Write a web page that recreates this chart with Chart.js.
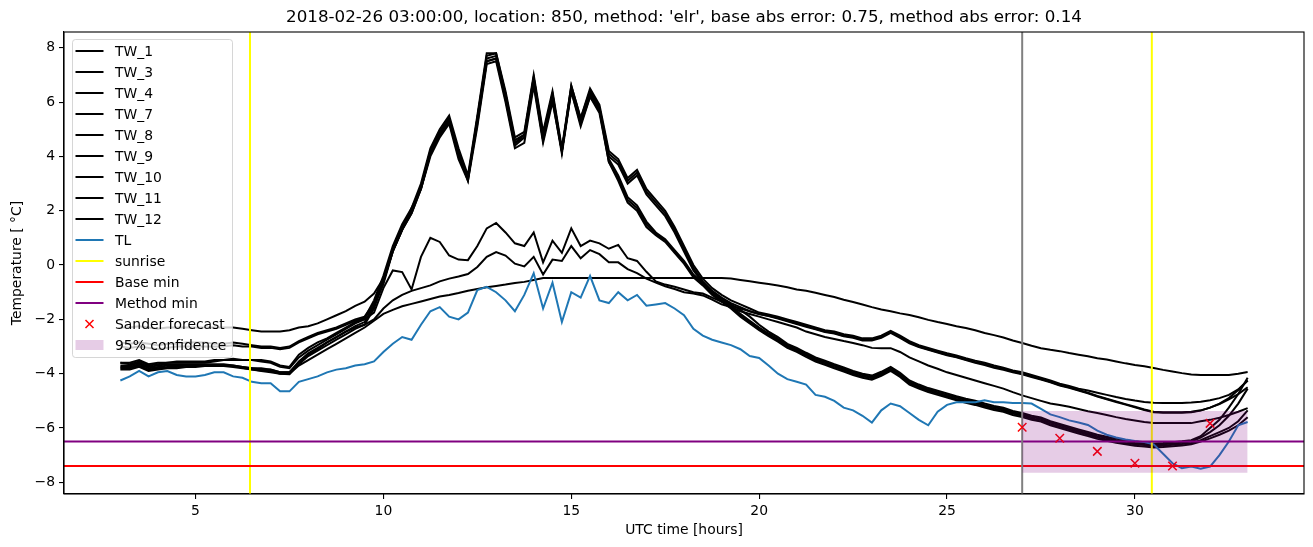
<!DOCTYPE html>
<html>
<head>
<meta charset="utf-8">
<script src="https://cdn.jsdelivr.net/npm/chart.js@4/dist/chart.umd.min.js"></script>
<style>
  body { margin: 0; background: #fff; }
  canvas { display: block; }
</style>
</head>
<body>
<canvas id="tempChart" width="1313" height="547"></canvas>
<script>
// time axis, hours UTC (one value every 15 minutes)
const hours = [
  3, 3.25, 3.5, 3.75, 4, 4.25, 4.5, 4.75,
  5, 5.25, 5.5, 5.75, 6, 6.25, 6.5, 6.75,
  7, 7.25, 7.5, 7.75, 8, 8.25, 8.5, 8.75,
  9, 9.25, 9.5, 9.75, 10, 10.25, 10.5, 10.75,
  11, 11.25, 11.5, 11.75, 12, 12.25, 12.5, 12.75,
  13, 13.25, 13.5, 13.75, 14, 14.25, 14.5, 14.75,
  15, 15.25, 15.5, 15.75, 16, 16.25, 16.5, 16.75,
  17, 17.25, 17.5, 17.75, 18, 18.25, 18.5, 18.75,
  19, 19.25, 19.5, 19.75, 20, 20.25, 20.5, 20.75,
  21, 21.25, 21.5, 21.75, 22, 22.25, 22.5, 22.75,
  23, 23.25, 23.5, 23.75, 24, 24.25, 24.5, 24.75,
  25, 25.25, 25.5, 25.75, 26, 26.25, 26.5, 26.75,
  27, 27.25, 27.5, 27.75, 28, 28.25, 28.5, 28.75,
  29, 29.25, 29.5, 29.75, 30, 30.25, 30.5, 30.75,
  31, 31.25, 31.5, 31.75, 32, 32.25, 32.5, 32.75,
  33
]

const tw1 = [
  -2.3, -2.3, -2.25, -2.3, -2.35, -2.3, -2.3, -2.3,
  -2.3, -2.3, -2.3, -2.3, -2.3, -2.35, -2.4, -2.45,
  -2.45, -2.45, -2.4, -2.3, -2.25, -2.15, -2.0, -1.85,
  -1.7, -1.5, -1.35, -1.05, -0.5, 0.6, 1.4, 2.0,
  2.9, 4.2, 4.9, 5.4, 4.1, 3.1, 5.4, 7.7,
  7.8, 6.3, 4.5, 4.8, 6.9, 4.7, 6.3, 4.2,
  6.6, 5.4, 6.5, 5.9, 4.2, 3.9, 3.2, 3.5,
  2.8, 2.4, 2.0, 1.4, 0.7, 0.0, -0.5, -0.85,
  -1.1, -1.3, -1.45, -1.6, -1.75, -1.82, -1.9, -2.0,
  -2.1, -2.2, -2.3, -2.4, -2.45, -2.55, -2.6, -2.7,
  -2.7, -2.6, -2.42, -2.6, -2.8, -2.95, -3.05, -3.15,
  -3.25, -3.33, -3.43, -3.52, -3.6, -3.7, -3.78, -3.88,
  -3.95, -4.05, -4.15, -4.25, -4.37, -4.45, -4.55, -4.62,
  -4.7, -4.78, -4.86, -4.93, -4.99, -5.04, -5.07, -5.08,
  -5.08, -5.08, -5.06, -5.03, -4.98, -4.9, -4.78, -4.58,
  -4.25
]

const tw3 = [
  -2.85, -2.9, -2.85, -2.9, -2.95, -2.9, -2.9, -2.85,
  -2.85, -2.85, -2.9, -2.9, -2.85, -2.9, -2.95, -3.0,
  -3.0, -3.05, -3.0, -2.8, -2.65, -2.5, -2.4, -2.3,
  -2.15, -2.0, -1.9, -1.4, -0.6, 0.5, 1.3, 2.1,
  2.8, 4.1, 4.8, 5.3, 4.0, 3.2, 5.2, 7.5,
  7.6, 6.1, 4.4, 4.7, 6.7, 4.6, 6.2, 4.2,
  6.5, 5.2, 6.4, 5.8, 4.1, 3.8, 3.1, 3.4,
  2.7, 2.3, 1.9, 1.3, 0.6, -0.1, -0.6, -0.95,
  -1.2, -1.4, -1.55, -1.7, -1.8, -1.88, -1.97, -2.07,
  -2.17, -2.27, -2.37, -2.47, -2.52, -2.62, -2.68, -2.78,
  -2.78, -2.68, -2.5, -2.68, -2.88, -3.02, -3.12, -3.22,
  -3.32, -3.4, -3.5, -3.6, -3.68, -3.78, -3.86, -3.95,
  -4.02, -4.12, -4.22, -4.32, -4.44, -4.52, -4.62, -4.72,
  -4.84, -4.94, -5.04, -5.14, -5.24, -5.34, -5.42, -5.44,
  -5.44, -5.44, -5.42, -5.36, -5.25, -5.1, -4.9, -4.6,
  -4.25
]

const tw4 = [
  -3.0, -3.05, -3.0, -3.05, -3.1, -3.05, -3.0, -3.0,
  -3.0, -3.0, -3.0, -3.0, -2.95, -3.0, -3.0, -3.05,
  -3.05, -3.1, -3.05, -2.85, -2.7, -2.55, -2.45, -2.35,
  -2.2, -2.05, -1.95, -1.5, -0.7, 0.5, 1.3, 1.9,
  2.8, 4.0, 4.7, 5.2, 3.9, 3.1, 5.1, 7.4,
  7.5, 6.0, 4.3, 4.5, 6.6, 4.5, 6.0, 4.2,
  6.4, 5.1, 6.2, 5.7, 4.0, 3.7, 3.0, 3.3,
  2.6, 2.2, 1.8, 1.2, 0.5, -0.2, -0.65, -1.0,
  -1.25, -1.45, -1.65, -1.9, -2.2, -2.45, -2.65, -2.9,
  -3.05, -3.23, -3.4, -3.52, -3.65, -3.77, -3.9, -4.0,
  -4.07, -3.93, -3.75, -3.97, -4.25, -4.4, -4.53, -4.63,
  -4.73, -4.83, -4.92, -5.0, -5.1, -5.19, -5.25, -5.37,
  -5.45, -5.55, -5.61, -5.75, -5.85, -5.95, -6.05, -6.15,
  -6.25, -6.32, -6.39, -6.45, -6.5, -6.53, -6.57, -6.55,
  -6.52, -6.49, -6.45, -6.3, -6.0, -5.7, -5.25, -4.75,
  -4.15
]

const tw7 = [
  -3.6, -3.6, -3.5, -3.65, -3.6, -3.6, -3.55, -3.55,
  -3.55, -3.55, -3.5, -3.5, -3.45, -3.5, -3.5, -3.5,
  -3.55, -3.7, -3.75, -3.3, -3.05, -2.85, -2.7, -2.5,
  -2.3, -2.1, -1.95, -1.3, -0.4, 0.7, 1.5, 2.1,
  3.0, 4.3, 5.0, 5.5, 4.3, 3.3, 5.5, 7.8,
  7.8, 6.4, 4.7, 4.9, 7.0, 4.9, 6.4, 4.3,
  6.6, 5.4, 6.4, 5.8, 3.9, 3.3, 2.5, 2.2,
  1.6, 1.2, 0.95, 0.55, 0.15, -0.35, -0.65, -1.0,
  -1.25, -1.5, -1.8, -2.05, -2.3, -2.52, -2.72, -2.95,
  -3.1, -3.28, -3.45, -3.57, -3.7, -3.82, -3.95, -4.05,
  -4.12, -3.98, -3.8, -4.02, -4.3, -4.45, -4.58, -4.68,
  -4.78, -4.88, -4.97, -5.05, -5.15, -5.24, -5.3, -5.42,
  -5.5, -5.6, -5.66, -5.8, -5.9, -6.0, -6.1, -6.2,
  -6.3, -6.37, -6.44, -6.5, -6.55, -6.58, -6.62, -6.6,
  -6.57, -6.54, -6.5, -6.35, -6.15, -5.9, -5.55, -5.1,
  -4.55
]

const tw8 = [
  -3.7, -3.7, -3.6, -3.75, -3.7, -3.65, -3.65, -3.65,
  -3.65, -3.65, -3.65, -3.65, -3.7, -3.75, -3.8, -3.8,
  -3.85, -3.95, -3.95, -3.55, -3.25, -3.05, -2.85, -2.65,
  -2.45, -2.25, -2.1, -1.5, -0.5, 0.6, 1.4, 2.0,
  2.9, 4.2, 4.9, 5.4, 4.2, 3.2, 5.4, 7.6,
  7.7, 6.3, 4.6, 4.8, 6.9, 4.8, 6.3, 4.2,
  6.5, 5.3, 6.3, 5.7, 3.8, 3.2, 2.4, 2.1,
  1.5, 1.15, 0.9, 0.5, 0.1, -0.4, -0.7, -1.05,
  -1.3, -1.55, -1.85, -2.1, -2.35, -2.57, -2.77, -3.0,
  -3.15, -3.33, -3.5, -3.62, -3.75, -3.87, -4.0, -4.1,
  -4.17, -4.03, -3.85, -4.07, -4.35, -4.5, -4.63, -4.73,
  -4.83, -4.93, -5.02, -5.1, -5.2, -5.29, -5.35, -5.47,
  -5.55, -5.65, -5.71, -5.85, -5.95, -6.05, -6.15, -6.25,
  -6.35, -6.42, -6.49, -6.55, -6.6, -6.63, -6.67, -6.65,
  -6.62, -6.59, -6.55, -6.45, -6.3, -6.15, -6.0, -5.75,
  -5.35
]

const tw9 = [
  -3.75, -3.75, -3.65, -3.8, -3.75, -3.7, -3.7, -3.7,
  -3.7, -3.7, -3.7, -3.7, -3.72, -3.78, -3.85, -3.88,
  -3.9, -4.0, -4.02, -3.65, -3.35, -3.15, -2.95, -2.75,
  -2.55, -2.35, -2.2, -1.6, -0.6, 0.5, 1.3, 1.9,
  2.8, 4.1, 4.8, 5.3, 4.0, 3.2, 5.3, 7.5,
  7.6, 6.2, 4.5, 4.7, 6.8, 4.6, 6.1, 4.1,
  6.4, 5.2, 6.2, 5.6, 3.8, 3.1, 2.3, 2.0,
  1.4, 1.1, 0.85, 0.45, 0.05, -0.45, -0.75, -1.1,
  -1.35, -1.6, -1.9, -2.15, -2.4, -2.62, -2.82, -3.05,
  -3.2, -3.38, -3.55, -3.67, -3.8, -3.92, -4.05, -4.15,
  -4.22, -4.08, -3.9, -4.12, -4.4, -4.55, -4.68, -4.78,
  -4.88, -4.98, -5.07, -5.15, -5.25, -5.34, -5.4, -5.52,
  -5.6, -5.7, -5.76, -5.9, -6.0, -6.1, -6.2, -6.3,
  -6.4, -6.47, -6.54, -6.6, -6.65, -6.68, -6.72, -6.7,
  -6.67, -6.64, -6.6, -6.5, -6.38, -6.25, -6.1, -5.9,
  -5.6
]

const tw10 = [
  -3.6, -3.65, -3.55, -3.7, -3.65, -3.6, -3.6, -3.6,
  -3.6, -3.6, -3.55, -3.5, -3.5, -3.5, -3.5, -3.55,
  -3.6, -3.75, -3.8, -3.4, -3.15, -2.95, -2.75, -2.55,
  -2.35, -2.15, -2.0, -1.75, -0.85, -0.2, -0.26, -0.9,
  0.3, 1.0, 0.85, 0.35, 0.2, 0.18, 0.7, 1.35,
  1.55, 1.2, 0.8, 0.7, 1.2, 0.1, 0.9, 0.45,
  1.35, 0.7, 0.9, 0.8, 0.6, 0.74, 0.25, 0.15,
  -0.25, -0.6, -0.72, -0.8, -0.9, -1.0, -1.05, -1.2,
  -1.35, -1.5, -1.6, -1.7, -1.8, -1.87, -1.95, -2.05,
  -2.15, -2.25, -2.35, -2.45, -2.5, -2.6, -2.65, -2.75,
  -2.75, -2.65, -2.45, -2.65, -2.85, -3.0, -3.1, -3.2,
  -3.3, -3.38, -3.48, -3.57, -3.65, -3.75, -3.82, -3.92,
  -4.0, -4.1, -4.2, -4.3, -4.42, -4.5, -4.6, -4.7,
  -4.82, -4.92, -5.02, -5.12, -5.22, -5.32, -5.4, -5.42,
  -5.42, -5.42, -5.4, -5.35, -5.25, -5.12, -4.95, -4.75,
  -4.5
]

const tw11 = [
  -3.8, -3.8, -3.7, -3.85, -3.8, -3.75, -3.75, -3.7,
  -3.7, -3.7, -3.7, -3.7, -3.7, -3.75, -3.8, -3.85,
  -3.85, -3.95, -3.95, -3.6, -3.3, -3.1, -2.85, -2.65,
  -2.45, -2.3, -2.2, -2.0, -1.6, -1.3, -1.1, -0.95,
  -0.85, -0.75, -0.6, -0.5, -0.42, -0.33, -0.07, 0.3,
  0.48, 0.35, 0.05, -0.05, 0.3, -0.35, 0.2, 0.15,
  0.7, 0.25, 0.55, 0.4, 0.1, 0.1, -0.15, -0.3,
  -0.5, -0.65, -0.78, -0.88, -1.0, -1.05, -1.12, -1.27,
  -1.45, -1.55, -1.7, -1.8, -1.9, -2.0, -2.1, -2.2,
  -2.3, -2.45, -2.55, -2.65, -2.72, -2.8, -2.87, -2.95,
  -3.05, -3.06, -3.06, -3.2, -3.4, -3.55, -3.7, -3.82,
  -3.95, -4.05, -4.15, -4.25, -4.35, -4.45, -4.55, -4.68,
  -4.8, -4.9, -5.0, -5.1, -5.15, -5.22, -5.3, -5.38,
  -5.45, -5.52, -5.6, -5.67, -5.72, -5.78, -5.82, -5.82,
  -5.82, -5.82, -5.82, -5.75, -5.7, -5.62, -5.52, -5.4,
  -5.27
]

const tw12 = [
  -3.85, -3.85, -3.75, -3.9, -3.85, -3.8, -3.8, -3.75,
  -3.75, -3.72, -3.72, -3.72, -3.75, -3.8, -3.85, -3.9,
  -3.95, -4.0, -4.0, -3.7, -3.5, -3.3, -3.1, -2.9,
  -2.7, -2.5, -2.3, -2.05, -1.8, -1.65, -1.52, -1.43,
  -1.34, -1.25, -1.16, -1.1, -1.03, -0.95, -0.88, -0.82,
  -0.77, -0.72, -0.66, -0.62, -0.55, -0.48, -0.48, -0.48,
  -0.48, -0.48, -0.48, -0.48, -0.48, -0.48, -0.48, -0.48,
  -0.48, -0.48, -0.48, -0.48, -0.48, -0.48, -0.48, -0.48,
  -0.48, -0.5, -0.55, -0.6, -0.65, -0.7, -0.75, -0.82,
  -0.9, -0.95, -1.02, -1.1, -1.18, -1.28, -1.36, -1.45,
  -1.55, -1.64, -1.7, -1.78, -1.84, -1.92, -2.02, -2.1,
  -2.17, -2.25, -2.32, -2.4, -2.5, -2.58, -2.67, -2.78,
  -2.87, -2.97, -3.06, -3.12, -3.17, -3.24, -3.3, -3.36,
  -3.43, -3.48, -3.55, -3.62, -3.68, -3.73, -3.79, -3.86,
  -3.92, -3.98, -4.03, -4.05, -4.05, -4.05, -4.05, -4.0,
  -3.94
]

const tl = [
  -4.25, -4.1, -3.9, -4.1, -3.95, -3.9, -4.05, -4.1,
  -4.1, -4.05, -3.95, -3.95, -4.1, -4.15, -4.3, -4.35,
  -4.35, -4.65, -4.65, -4.3, -4.2, -4.1, -3.95, -3.85,
  -3.8, -3.7, -3.65, -3.55, -3.2, -2.9, -2.65, -2.75,
  -2.2, -1.7, -1.55, -1.9, -2.0, -1.75, -0.92, -0.8,
  -1.0, -1.3, -1.7, -1.1, -0.3, -1.6, -0.65, -2.1,
  -1.0, -1.2, -0.4, -1.3, -1.4, -1.0, -1.3, -1.1,
  -1.5, -1.45, -1.4, -1.6, -1.85, -2.35, -2.6, -2.75,
  -2.85, -2.95, -3.1, -3.35, -3.42, -3.7, -4.0, -4.2,
  -4.3, -4.4, -4.78, -4.85, -5.0, -5.25, -5.35, -5.55,
  -5.8, -5.35, -5.1, -5.2, -5.45, -5.7, -5.9, -5.4,
  -5.15, -5.05, -5.05, -5.05, -4.98, -5.05, -5.05, -5.08,
  -5.08, -5.1, -5.3, -5.5, -5.6, -5.72, -5.8, -5.89,
  -6.1, -6.25, -6.35, -6.42, -6.48, -6.52, -6.6, -6.95,
  -7.3, -7.48, -7.42, -7.5, -7.42, -7.0, -6.5, -5.9,
  -5.78
]

const sunriseHours = [6.45, 30.45]
const baseMin = -7.4
const methodMin = -6.5
const forecastStart = 27
const sanderHours = [27, 28, 29, 30, 31, 32]
const sanderTemps = [-5.97, -6.38, -6.86, -7.3, -7.4, -5.83]
const confHours = [27, 33]
const confLow = -7.65
const confHigh = -5.37

const xTicks = [5, 10, 15, 20, 25, 30]
const yTicks = [-8, -6, -4, -2, 0, 2, 4, 6, 8]
const xMin = 1.5
const xMax = 34.5
const yMin = -8.43
const yMax = 8.58

const title = "2018-02-26 03:00:00, location: 850, method: 'elr', base abs error: 0.75, method abs error: 0.14"
const font = '"DejaVu Sans", sans-serif'

const twLines = [
  ['TW_1', tw1], ['TW_3', tw3], ['TW_4', tw4], ['TW_7', tw7], ['TW_8', tw8],
  ['TW_9', tw9], ['TW_10', tw10], ['TW_11', tw11], ['TW_12', tw12]
]

function toPoints(values) {
  return hours.map((h, i) => ({ x: h, y: values[i] }))
}

function lineSet(label, data, color) {
  return { label, data, borderColor: color, backgroundColor: color, borderWidth: 2, pointRadius: 0, fill: false, tension: 0 }
}

function verticalLines(xs) {
  const pts = []
  xs.forEach((x, i) => {
    if (i > 0) pts.push({ x, y: null })
    pts.push({ x, y: yMin }, { x, y: yMax })
  })
  return pts
}

const datasets = [
  ...twLines.map(([name, vals]) => lineSet(name, toPoints(vals), '#000000')),
  lineSet('TL', toPoints(tl), '#1f77b4'),
  lineSet('sunrise', verticalLines(sunriseHours), '#ffff00'),
  lineSet('Base min', [{ x: xMin, y: baseMin }, { x: xMax, y: baseMin }], '#ff0000'),
  lineSet('Method min', [{ x: xMin, y: methodMin }, { x: xMax, y: methodMin }], '#800080'),
  lineSet('', verticalLines([forecastStart]), '#808080'),
  {
    label: 'Sander forecast',
    data: sanderHours.map((h, i) => ({ x: h, y: sanderTemps[i] })),
    showLine: false,
    pointStyle: 'crossRot',
    pointRadius: 6,
    pointBorderWidth: 1.5,
    borderColor: '#ff0000',
    backgroundColor: '#ff0000'
  },
  {
    label: '95% confidence',
    data: confHours.map(h => ({ x: h, y: confHigh })),
    borderWidth: 0,
    pointRadius: 0,
    backgroundColor: 'rgba(128,0,128,0.2)',
    fill: { value: confLow }
  }
]
// later datasets on top, as in the original plot
datasets.forEach((d, i) => { d.order = datasets.length - i })

const legendEntries = [
  ...twLines.map(([name]) => ({ label: name, kind: 'line', color: '#000000' })),
  { label: 'TL', kind: 'line', color: '#1f77b4' },
  { label: 'sunrise', kind: 'line', color: '#ffff00' },
  { label: 'Base min', kind: 'line', color: '#ff0000' },
  { label: 'Method min', kind: 'line', color: '#800080' },
  { label: 'Sander forecast', kind: 'cross', color: '#ff0000' },
  { label: '95% confidence', kind: 'patch', color: 'rgba(128,0,128,0.2)' }
]

const framePlugin = {
  id: 'frame',
  afterDatasetsDraw(chart) {
    const { ctx, chartArea: a } = chart
    ctx.save()
    ctx.strokeStyle = '#000'
    ctx.lineWidth = 1.1
    ctx.strokeRect(a.left, a.top, a.right - a.left, a.bottom - a.top)
    ctx.restore()
  },
  afterDraw(chart) {
    const { ctx, chartArea: a } = chart
    ctx.save()
    // title
    ctx.fillStyle = '#000'
    ctx.font = `16.7px ${font}`
    ctx.textAlign = 'center'
    ctx.textBaseline = 'middle'
    ctx.fillText(title, (a.left + a.right) / 2, 18)

    // legend box
    const bx = 72.5, by = 39.5, bw = 160, bh = 318
    ctx.beginPath()
    ctx.roundRect(bx, by, bw, bh, 3)
    ctx.fillStyle = 'rgba(255,255,255,0.8)'
    ctx.fill()
    ctx.strokeStyle = 'rgba(204,204,204,0.8)'
    ctx.lineWidth = 1
    ctx.stroke()

    ctx.font = `13.9px ${font}`
    ctx.textAlign = 'left'
    legendEntries.forEach((e, i) => {
      const y = 51 + i * 21
      if (e.kind === 'line') {
        ctx.strokeStyle = e.color
        ctx.lineWidth = 2
        ctx.beginPath()
        ctx.moveTo(75.5, y)
        ctx.lineTo(103.5, y)
        ctx.stroke()
      } else if (e.kind === 'cross') {
        ctx.strokeStyle = e.color
        ctx.lineWidth = 1.5
        ctx.beginPath()
        ctx.moveTo(85.5, y - 4)
        ctx.lineTo(93.5, y + 4)
        ctx.moveTo(93.5, y - 4)
        ctx.lineTo(85.5, y + 4)
        ctx.stroke()
      } else {
        ctx.fillStyle = e.color
        ctx.fillRect(75.5, y - 5, 28, 10)
      }
      ctx.fillStyle = '#000'
      ctx.fillText(e.label, 115, y + 1)
    })
    ctx.restore()
  }
}

const tickFont = { family: font, size: 13.9 }
const minusLabel = v => (v < 0 ? '\u2212' + Math.abs(v) : String(v))

new Chart(document.getElementById('tempChart').getContext('2d'), {
  type: 'line',
  data: { datasets },
  options: {
    responsive: false,
    animation: false,
    devicePixelRatio: 1,
    layout: { padding: { left: 0, right: 9, top: 32, bottom: 0 } },
    plugins: {
      legend: { display: false },
      tooltip: { enabled: false },
      title: { display: false }
    },
    scales: {
      x: {
        type: 'linear',
        min: xMin,
        max: xMax,
        afterBuildTicks: s => { s.ticks = xTicks.map(v => ({ value: v })) },
        afterFit: s => { s.height = 53 },
        ticks: { color: '#000', font: tickFont, padding: 4, maxRotation: 0, callback: minusLabel },
        grid: { drawOnChartArea: false, drawTicks: true, tickLength: 5, color: '#000', lineWidth: 1.1 },
        border: { color: '#000', width: 1.1 },
        title: { display: true, text: 'UTC time [hours]', color: '#000', font: tickFont, padding: { top: 0, bottom: 8.5 } }
      },
      y: {
        type: 'linear',
        min: yMin,
        max: yMax,
        afterBuildTicks: s => { s.ticks = yTicks.map(v => ({ value: v })) },
        afterFit: s => { s.width = 64 },
        ticks: { color: '#000', font: tickFont, padding: 4, callback: minusLabel },
        grid: { drawOnChartArea: false, drawTicks: true, tickLength: 5, color: '#000', lineWidth: 1.1 },
        border: { color: '#000', width: 1.1 },
        title: { display: true, text: 'Temperature [ °C]', color: '#000', font: tickFont, padding: { top: 9, bottom: 0 } }
      }
    }
  },
  plugins: [framePlugin]
})
</script>
</body>
</html>
